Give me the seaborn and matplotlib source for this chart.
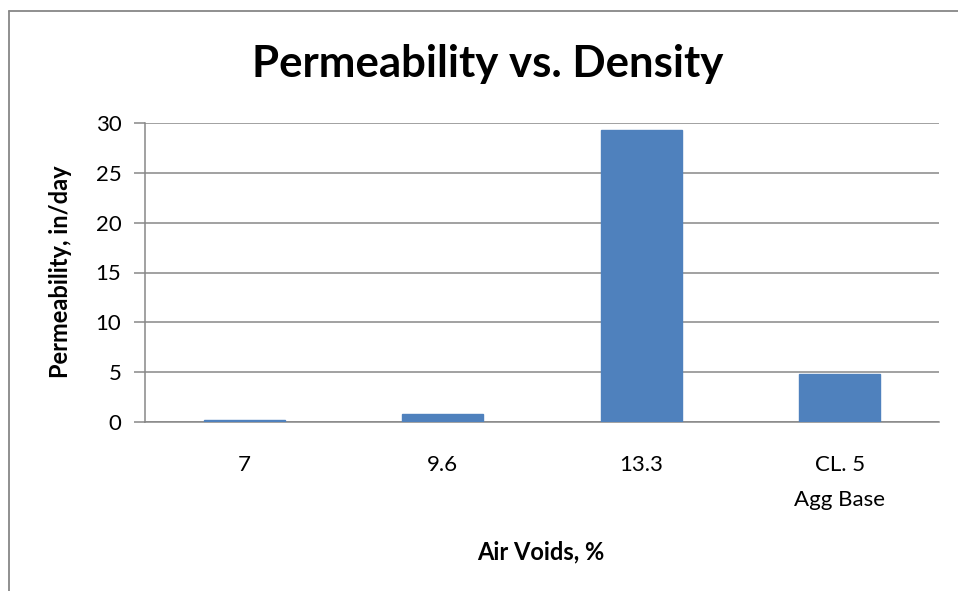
import matplotlib
matplotlib.use("Agg")
import matplotlib.pyplot as plt
from matplotlib.lines import Line2D
from matplotlib.ticker import FixedLocator
import seaborn as sns
import pandas as pd

# data
air_voids = ["7", "9.6", "13.3", "CL. 5\nAgg Base"]
permeability = [0.25, 0.85, 29.3, 4.8]
y_ticks = [0, 5, 10, 15, 20, 25, 30]

BAR_COLOR = "#4F81BD"
GRID_COLOR = "#878787"

sns.set_style("white")
plt.rcParams["font.family"] = ["Lato", "DejaVu Sans"]
plt.rcParams["text.color"] = "black"

df = pd.DataFrame({"air_voids": air_voids, "permeability": permeability})

W, H = 958, 591
fig = plt.figure(figsize=(W / 100, H / 100), dpi=100)
ax = fig.add_axes([145 / W, 1 - 422 / H, (939 - 145) / W, (422 - 123) / H])

sns.barplot(data=df, x="air_voids", y="permeability", color=BAR_COLOR,
            width=0.41, saturation=1, ax=ax, zorder=3,
            edgecolor=BAR_COLOR, linewidth=1.0)

ax.set_ylim(0, 30)
ax.set_xlim(-0.5, len(air_voids) - 0.5)
ax.set_yticks(y_ticks)
ax.yaxis.grid(True, color=GRID_COLOR, linewidth=1.1, zorder=0)
ax.set_axisbelow(True)

# category boundary ticks on the x axis, labels at centres
ax.set_xticks(range(len(air_voids)))
ax.set_xticklabels(air_voids, linespacing=1.9)
ax.xaxis.set_minor_locator(FixedLocator([i - 0.5 for i in range(len(air_voids) + 1)]))
ax.tick_params(axis="x", which="major", length=0, pad=24, labelsize=16, labelcolor="black")
ax.tick_params(axis="x", which="minor", direction="out", length=7, width=1.1, color=GRID_COLOR)
ax.tick_params(axis="y", which="major", direction="out", length=8, width=1.1,
               color=GRID_COLOR, pad=9, labelsize=16, labelcolor="black", left=True)

for side in ["top", "right"]:
    ax.spines[side].set_visible(False)
for side in ["left", "bottom"]:
    ax.spines[side].set_color(GRID_COLOR)
    ax.spines[side].set_linewidth(1.1)

ax.set_xlabel("")
ax.set_ylabel("")
fig.text(541 / W, 1 - 552 / H, "Air Voids, %", ha="center", va="center",
         fontsize=17, fontweight="bold")
fig.text(60 / W, 1 - 272 / H, "Permeability, in/day", ha="center", va="center",
         rotation=90, fontsize=17, fontweight="bold")
fig.text(488 / W, 1 - 64 / H, "Permeability vs. Density", ha="center", va="center",
         fontsize=31.5, fontweight="bold")

# chart area frame (cut off on the right and bottom)
fx, fy = 9 / W, 1 - 11 / H
fig.add_artist(Line2D([fx, fx], [0, fy], color=GRID_COLOR, linewidth=1.3))
fig.add_artist(Line2D([fx, 1], [fy, fy], color=GRID_COLOR, linewidth=1.3))

fig.savefig("out.png", dpi=100)
